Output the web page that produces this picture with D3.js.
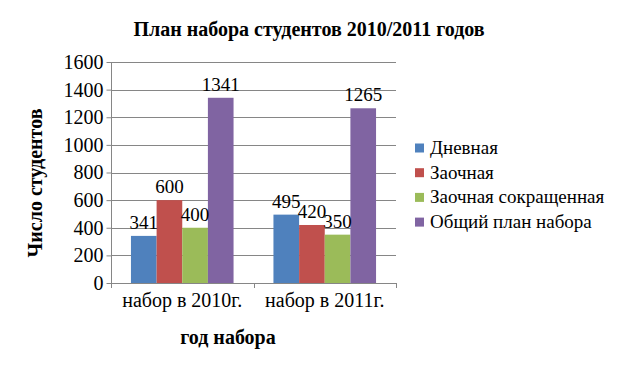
<!DOCTYPE html>
<html><head><meta charset="utf-8">
<script src="https://cdn.jsdelivr.net/npm/d3@7"></script>
<style>body{margin:0;background:#fff}svg{display:block;font-family:"Liberation Serif","Times New Roman",serif}</style>
</head><body><svg id="c" width="619" height="369"></svg>
<script>
const categories = ["набор в 2010г.", "набор в 2011г."];
const seriesNames = ["Дневная", "Заочная", "Заочная сокращенная", "Общий план набора"];
const colors = ["#4f81bd", "#c0504d", "#9bbb59", "#8064a2"];
const values = [[341, 495], [600, 420], [400, 350], [1341, 1265]];
const yTicks = [0, 200, 400, 600, 800, 1000, 1200, 1400, 1600];
const title = "План набора студентов 2010/2011 годов";
const xTitle = "год набора";
const yTitle = "Число студентов";

const svg = d3.select("#c");
const L = 111, R = 396, T = 62, B = 283;
const x0 = d3.scaleBand().domain(categories).range([L, R]).padding(0);
const x1 = d3.scaleBand().domain(seriesNames.map((d,i)=>i)).range([x0.bandwidth()*0.14, x0.bandwidth()*0.86]).padding(0);
const y = d3.scaleLinear().domain([0, 1600]).range([B, T]);

// gridlines
svg.append("g").selectAll("line").data(yTicks.slice(1)).join("line")
  .attr("x1", L).attr("x2", R).attr("y1", d=>Math.round(y(d))+0.5).attr("y2", d=>Math.round(y(d))+0.5)
  .attr("stroke", "#868686").attr("stroke-width", 1);

// y axis
const ya = svg.append("g").attr("transform", `translate(${L+0.5},0)`)
  .call(d3.axisLeft(y).tickValues(yTicks).tickSize(5).tickPadding(3).tickFormat(d3.format("d")));
ya.select(".domain").attr("stroke", "#868686").attr("d", `M0,${T}V${B}`);
ya.selectAll(".tick line").attr("stroke", "#868686");
ya.selectAll(".tick text").attr("font-family", "Liberation Serif").attr("font-size", 20).attr("fill", "#000");

// bars
const groups = svg.append("g").selectAll("g").data(categories).join("g")
  .attr("transform", d=>`translate(${x0(d)},0)`);
groups.selectAll("rect").data((c,ci)=>values.map((s,si)=>({si, v:s[ci]}))).join("rect")
  .attr("x", d=>x1(d.si)).attr("width", x1.bandwidth())
  .attr("y", d=>y(d.v)).attr("height", d=>B - y(d.v))
  .attr("fill", d=>colors[d.si]);
groups.selectAll("text").data((c,ci)=>values.map((s,si)=>({si, v:s[ci]}))).join("text")
  .attr("x", d=>x1(d.si)+x1.bandwidth()/2).attr("y", d=>y(d.v)-7)
  .attr("text-anchor", "middle").attr("font-size", 19).attr("fill", "#000").text(d=>d.v);

// x axis
const xa = svg.append("g").attr("transform", `translate(0,${B+0.5})`)
  .call(d3.axisBottom(x0).tickSize(0).tickPadding(9));
xa.select(".domain").attr("stroke", "#868686").attr("d", `M${L},0H${R}`);
xa.selectAll(".tick text").attr("font-family", "Liberation Serif").attr("font-size", 20).attr("fill", "#000");
svg.append("g").selectAll("line").data([L, x0(categories[1]), R]).join("line")
  .attr("x1", d=>Math.round(d)+0.5).attr("x2", d=>Math.round(d)+0.5).attr("y1", B).attr("y2", B+5)
  .attr("stroke", "#868686");

// titles
svg.append("text").attr("x", 309).attr("y", 36).attr("text-anchor", "middle")
  .attr("font-weight", "bold").attr("font-size", 20).text(title);
svg.append("text").attr("x", 228).attr("y", 344).attr("text-anchor", "middle")
  .attr("font-weight", "bold").attr("font-size", 20).text(xTitle);
svg.append("text").attr("transform", "translate(42,183) rotate(-90)").attr("text-anchor", "middle")
  .attr("font-weight", "bold").attr("font-size", 20).text(yTitle);

// legend
const lg = svg.append("g").selectAll("g").data(seriesNames).join("g")
  .attr("transform", (d,i)=>`translate(415,${148 + i*24.7})`);
lg.append("rect").attr("x", 0).attr("y", -4.5).attr("width", 9).attr("height", 9).attr("fill", (d,i)=>colors[i]);
lg.append("text").attr("x", 15).attr("y", 6).attr("font-size", 19).text(d=>d);
</script></body></html>
